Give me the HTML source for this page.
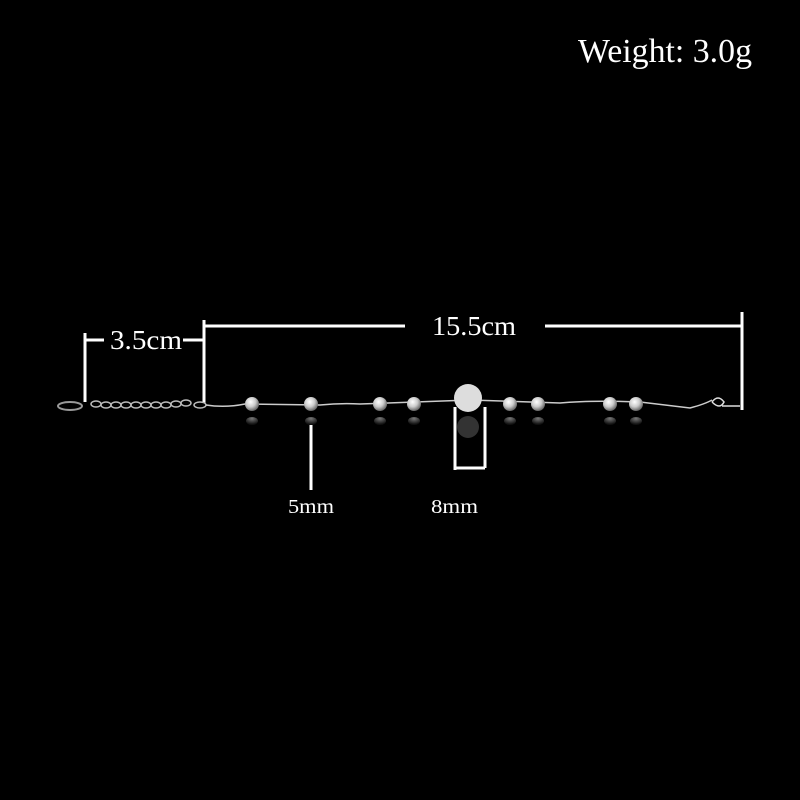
<!DOCTYPE html>
<html><head><meta charset="utf-8"><style>
html,body{margin:0;padding:0;background:#000;width:800px;height:800px;overflow:hidden}
text{font-family:"Liberation Serif",serif;fill:#fff}
</style></head><body>
<svg width="800" height="800" viewBox="0 0 800 800" xmlns="http://www.w3.org/2000/svg">
<defs>
<radialGradient id="b" cx="0.4" cy="0.35" r="0.7">
<stop offset="0" stop-color="#fff"/><stop offset="0.5" stop-color="#ccc"/><stop offset="1" stop-color="#555"/>
</radialGradient>
<radialGradient id="r" cx="0.5" cy="0.2" r="0.7">
<stop offset="0" stop-color="#777"/><stop offset="1" stop-color="#111"/>
</radialGradient>
</defs>
<rect width="800" height="800" fill="#000"/>
<text x="578" y="62" font-size="34" textLength="174" lengthAdjust="spacingAndGlyphs">Weight: 3.0g</text>
<g stroke="#fff" stroke-width="3" fill="none">
<path d="M85 333V402M85 340H104M183 340H203M204 320V403M204 326H405M545 326H742M742 312V410"/>
<path d="M311 425V490M455 407V470M455 468H485M485 407V468"/>
</g>
<text x="110" y="349" font-size="27" textLength="72" lengthAdjust="spacingAndGlyphs">3.5cm</text>
<text x="432" y="335" font-size="27" textLength="84" lengthAdjust="spacingAndGlyphs">15.5cm</text>
<text x="288" y="513" font-size="20" textLength="46" lengthAdjust="spacingAndGlyphs">5mm</text>
<text x="431" y="513" font-size="20" textLength="47" lengthAdjust="spacingAndGlyphs">8mm</text>
<!-- chain -->
<ellipse cx="70" cy="406" rx="12" ry="4" fill="none" stroke="#999" stroke-width="2"/>
<g fill="none" stroke="#bbb" stroke-width="1.5">
<ellipse cx="96" cy="404" rx="5" ry="3"/><ellipse cx="106" cy="405" rx="5" ry="3"/><ellipse cx="116" cy="405" rx="5" ry="3"/>
<ellipse cx="126" cy="405" rx="5" ry="3"/><ellipse cx="136" cy="405" rx="5" ry="3"/><ellipse cx="146" cy="405" rx="5" ry="3"/>
<ellipse cx="156" cy="405" rx="5" ry="3"/><ellipse cx="166" cy="405" rx="5" ry="3"/><ellipse cx="176" cy="404" rx="5" ry="3"/>
<ellipse cx="186" cy="403" rx="5" ry="3"/><ellipse cx="200" cy="405" rx="6" ry="3"/>
</g>
<path d="M206 405 Q225 408 245 404 L320 405 Q340 403 360 404 L470 400 L560 403 Q590 400 640 402 L690 408 Q705 404 712 400" stroke="#ccc" stroke-width="1.5" fill="none"/>
<path d="M712 402 q6-8 12 0 q-4 8-12 0 M722 406 h18" stroke="#ddd" stroke-width="1.5" fill="none"/>
<g>
<circle cx="252" cy="404" r="7" fill="url(#b)"/><circle cx="311" cy="404" r="7" fill="url(#b)"/>
<circle cx="380" cy="404" r="7" fill="url(#b)"/><circle cx="414" cy="404" r="7" fill="url(#b)"/>
<circle cx="510" cy="404" r="7" fill="url(#b)"/><circle cx="538" cy="404" r="7" fill="url(#b)"/>
<circle cx="610" cy="404" r="7" fill="url(#b)"/><circle cx="636" cy="404" r="7" fill="url(#b)"/>
<circle cx="468" cy="398" r="14" fill="#ddd"/>
<circle cx="468" cy="427" r="11" fill="#333"/>
<g fill="url(#r)">
<ellipse cx="252" cy="421" rx="6" ry="4"/><ellipse cx="311" cy="421" rx="6" ry="4"/>
<ellipse cx="380" cy="421" rx="6" ry="4"/><ellipse cx="414" cy="421" rx="6" ry="4"/>
<ellipse cx="510" cy="421" rx="6" ry="4"/><ellipse cx="538" cy="421" rx="6" ry="4"/>
<ellipse cx="610" cy="421" rx="6" ry="4"/><ellipse cx="636" cy="421" rx="6" ry="4"/>
</g>
</g>
</svg>
</body></html>
